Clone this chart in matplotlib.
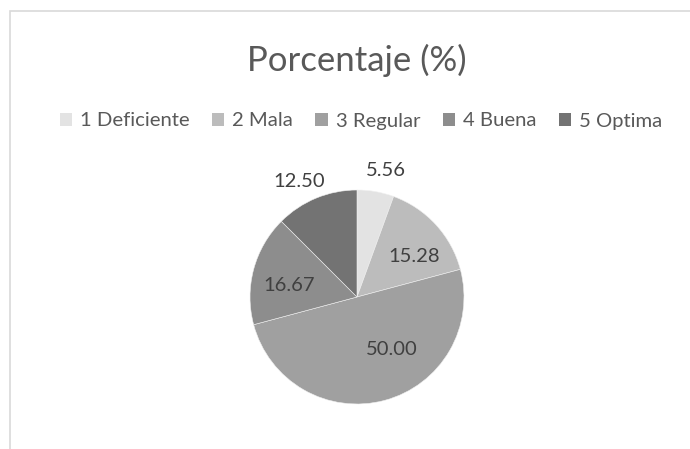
import numpy as np
import matplotlib.pyplot as plt
from matplotlib.patches import Rectangle, Patch

# Data
categorias = ['1 Deficiente', '2 Mala', '3 Regular', '4 Buena', '5 Optima']
porcentaje = [5.56, 15.28, 50.00, 16.67, 12.50]
etiquetas = ['5.56', '15.28', '50.00', '16.67', '12.50']

colores = ['#e3e3e3', '#bcbcbc', '#a0a0a0', '#8d8d8d', '#737373']
# label placement (radius fraction, angle tweak in degrees)
lab_r = [1.21, 0.66, 0.59, 0.645, 1.21]
lab_da = [-3, -7, 18, 5, 4]

plt.rcParams['font.family'] = ['Lato', 'DejaVu Sans']

W, H = 690, 449
fig = plt.figure(figsize=(W / 100, H / 100), dpi=100)
fig.patch.set_facecolor('white')

# chart frame (only top and left visible)
fig.patches.append(Rectangle((10 / W, -0.1), 1.2, 1 - 11 / H + 0.1,
                             transform=fig.transFigure, fill=False,
                             edgecolor='#d9d9d9', linewidth=1.2))

cx, cy, R = 357, 297, 107
ax = fig.add_axes([(cx - R) / W, 1 - (cy + R) / H, 2 * R / W, 2 * R / H])
wedges, _ = ax.pie(porcentaje, colors=colores, startangle=90, counterclock=False,
                   radius=1, wedgeprops=dict(edgecolor='#f0f0f0', linewidth=0.4))
ax.set_xlim(-1, 1)
ax.set_ylim(-1, 1)
ax.set_aspect('equal')
ax.axis('off')

for w, txt, r, da in zip(wedges, etiquetas, lab_r, lab_da):
    ang = np.deg2rad((w.theta1 + w.theta2) / 2 + da)
    ax.text(r * np.cos(ang), r * np.sin(ang), txt, ha='center', va='center',
            fontsize=14.5, color='#404040', clip_on=False)

fig.text(cx / W, 1 - 60 / H, 'Porcentaje (%)', ha='center', va='center',
         fontsize=25, color='#595959')

handles = [Patch(facecolor=c, edgecolor='none') for c in colores]
fig.legend(handles, categorias, loc='center', bbox_to_anchor=(361 / W, 1 - 121 / H),
           ncol=5, frameon=False, fontsize=14.6, labelcolor='#595959',
           handlelength=0.6, handleheight=0.6, handletextpad=0.4, columnspacing=1.1)

fig.savefig('out.png', dpi=100, facecolor='white')
